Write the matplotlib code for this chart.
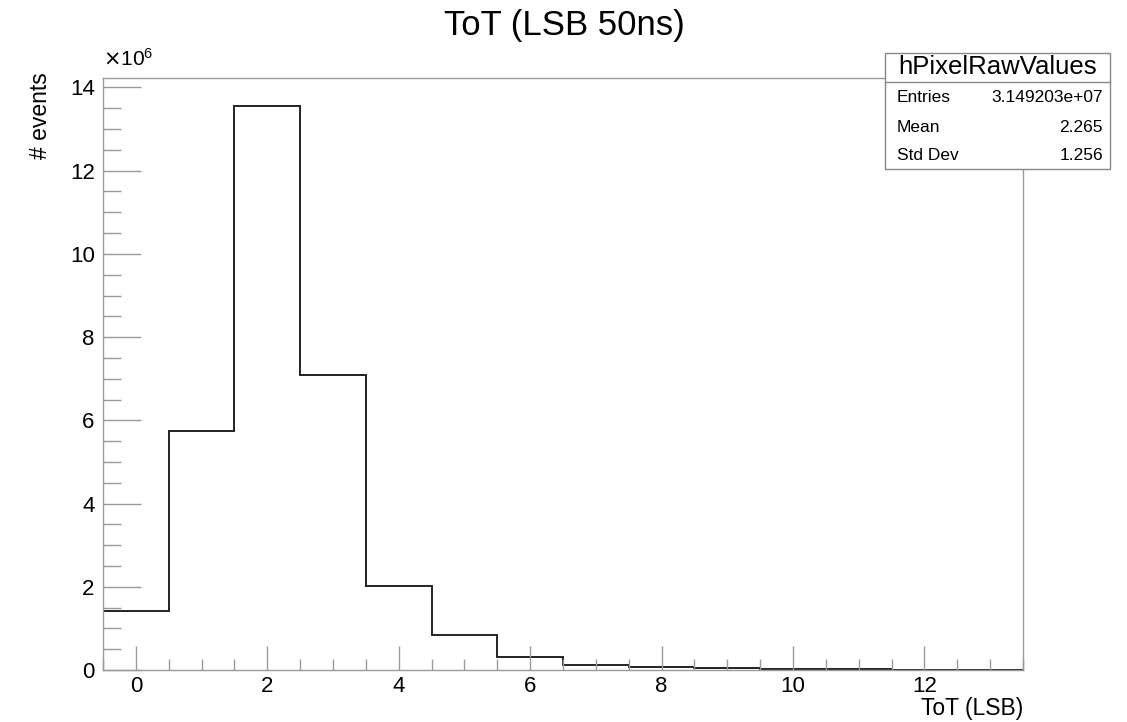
import numpy as np
import matplotlib.pyplot as plt
from matplotlib.ticker import MultipleLocator, FuncFormatter

plt.rcParams['font.family'] = ['Liberation Sans', 'DejaVu Sans']

# ToT histogram, one bin per LSB (bin centres 0..13), counts in units of 1e6
tot_bins = np.arange(0, 14)
counts_e6 = [1.42, 5.75, 13.55, 7.10, 2.02, 0.83, 0.32, 0.13, 0.07, 0.04, 0.03, 0.02, 0.01, 0.005]
stats_rows = [('Entries', '3.149203e+07'), ('Mean', '2.265'), ('Std Dev', '1.256')]
hist_name = 'hPixelRawValues'

edges = np.append(tot_bins - 0.5, tot_bins[-1] + 0.5)
counts = np.array(counts_e6) * 1e6

fig = plt.figure(figsize=(11.27, 7.22), dpi=100)
ax = fig.add_axes([0.0914, 0.0720, 0.8163, 0.820])

ax.stairs(counts, edges, baseline=0, color='#222222', lw=1.4)

ax.set_xlim(edges[0], edges[-1])
ax.set_ylim(0, 1.05 * counts.max())

frame_col = '#9a9a9a'
for side in ax.spines.values():
    side.set_color(frame_col)
    side.set_linewidth(1.0)

ax.xaxis.set_major_locator(MultipleLocator(2))
ax.xaxis.set_minor_locator(MultipleLocator(0.5))
ax.yaxis.set_major_locator(MultipleLocator(2e6))
ax.yaxis.set_minor_locator(MultipleLocator(0.5e6))
ax.yaxis.set_major_formatter(FuncFormatter(lambda v, p: f'{v / 1e6:g}'))

ax.tick_params(axis='x', which='major', direction='in', length=17, width=1, color=frame_col,
               labelsize=16, pad=4)
ax.tick_params(axis='x', which='minor', direction='in', length=8, width=1, color=frame_col)
ax.tick_params(axis='y', which='major', direction='in', length=27, width=1, color=frame_col,
               labelsize=16, pad=6)
ax.tick_params(axis='y', which='minor', direction='in', length=13, width=1, color=frame_col)

fig.text(0.0914, 0.903, r'$\times\mathregular{10^{6}}$', fontsize=15, ha='left', va='bottom')
fig.text(0.036, 0.90, '# events', rotation=90, fontsize=16.5, ha='center', va='top')
fig.text(0.9077, 1 - 715 / 722, 'ToT (LSB)', fontsize=16.5, ha='right', va='baseline')
fig.text(0.5005, 1 - 25 / 722, 'ToT (LSB 50ns)', fontsize=25, ha='center', va='center')

# ROOT-style statistics box
bx0, bx1 = 885 / 1127, 1110 / 1127
by0, by1 = 1 - 169 / 722, 1 - 53 / 722
sep = 1 - 82 / 722
box = plt.Rectangle((bx0, by0), bx1 - bx0, by1 - by0, transform=fig.transFigure,
                    facecolor='white', edgecolor='#888888', lw=1.0, zorder=5)
fig.add_artist(box)
fig.add_artist(plt.Line2D([bx0, bx1], [sep, sep], transform=fig.transFigure,
                          color='#888888', lw=1.0, zorder=6))
fig.text((bx0 + bx1) / 2, (sep + by1) / 2, hist_name, fontsize=18.5,
         ha='center', va='center', zorder=7)
row_y = [1 - 97 / 722, 1 - 127 / 722, 1 - 155 / 722]
for (lab, val), yy in zip(stats_rows, row_y):
    fig.text(897 / 1127, yy, lab, fontsize=12.5, ha='left', va='center', zorder=7)
    fig.text(1103 / 1127, yy, val, fontsize=12.5, ha='right', va='center', zorder=7)

fig.savefig('out.png', dpi=100, facecolor='white')
